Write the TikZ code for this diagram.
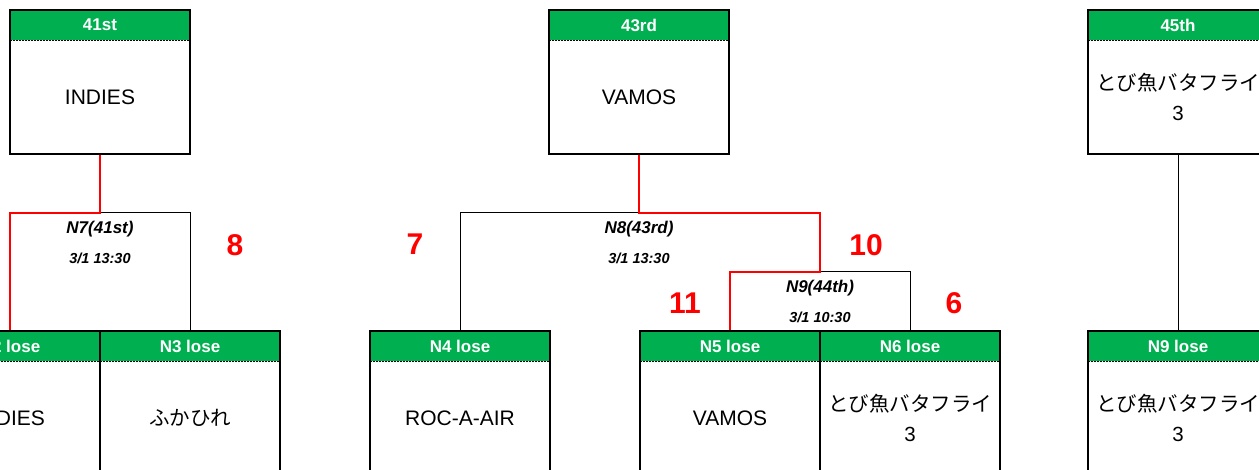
\documentclass[tikz,border=0pt]{standalone}
\usepackage{fontspec}
\setmainfont{Liberation Sans}
\newfontfamily\jp{Noto Sans CJK JP}
\definecolor{exgreen}{RGB}{0,176,80}
\begin{document}
\begin{tikzpicture}[x=1pt,y=-1pt,
  box/.style={draw=black, line width=2pt, minimum width=180pt, minimum height=144pt, inner sep=0pt},
  hdr/.style={fill=exgreen, minimum width=180pt, minimum height=30pt, inner sep=0pt, text=white, font=\fontsize{17}{20}\selectfont\bfseries},
  body/.style={font=\fontsize{21}{30}\selectfont, align=center, inner sep=0pt},
  jbody/.style={font=\fontsize{20.5}{30}\selectfont, align=center, inner sep=0pt},
  sep/.style={dashed, line width=0.8pt, dash pattern=on 2pt off 1pt},
  win/.style={draw=red, line width=2.6pt},
  lose/.style={draw=black, line width=1pt},
  mlabel/.style={font=\fontsize{17}{20}\selectfont\bfseries\itshape, inner sep=0pt},
  mdate/.style={font=\fontsize{14.5}{18}\selectfont\bfseries\itshape, inner sep=0pt},
  score/.style={text=red, font=\fontsize{30}{34}\selectfont\bfseries, inner sep=0pt}]
\useasboundingbox (0,0) rectangle (1259,470);
\clip (0,0) rectangle (1259,470);

% junction coordinates
\coordinate (j7) at (100,213);
\coordinate (j8) at (639,213);
\coordinate (j9) at (820,272);

% box positions (invisible anchors first, for connectors)
\path (100,82) node[minimum width=180pt, minimum height=144pt, inner sep=0pt] (t41) {};
\path (639,82) node[minimum width=180pt, minimum height=144pt, inner sep=0pt] (t43) {};
\path (1178,82) node[minimum width=180pt, minimum height=144pt, inner sep=0pt] (t45) {};
\path (10,403) node[minimum width=180pt, minimum height=144pt, inner sep=0pt] (b2) {};
\path (190,403) node[minimum width=180pt, minimum height=144pt, inner sep=0pt] (b3) {};
\path (460,403) node[minimum width=180pt, minimum height=144pt, inner sep=0pt] (b4) {};
\path (730,403) node[minimum width=180pt, minimum height=144pt, inner sep=0pt] (b5) {};
\path (910,403) node[minimum width=180pt, minimum height=144pt, inner sep=0pt] (b6) {};
\path (1178,403) node[minimum width=180pt, minimum height=144pt, inner sep=0pt] (b9) {};

% connectors
\draw[lose] (j7) -| (b3.north);
\draw[lose] (j8) -| (b4.north);
\draw[lose] (j9) -| (b6.north);
\draw[lose] (t45.south) -- (b9.north);
\draw[win] (t41.south) -- (j7) -| (b2.north);
\draw[win] (t43.south) -- (j8) -| (j9) -| (b5.north);

% headers
\foreach \b/\t in {t41/41st, t43/43rd, t45/45th, b2/N2 lose, b3/N3 lose, b4/N4 lose, b5/N5 lose, b6/N6 lose, b9/N9 lose}{
  \node[hdr, anchor=north] (h\b) at (\b.north) {\t};
  \draw[sep] (h\b.south west) -- (h\b.south east);
}

% borders
\foreach \b in {t41,t43,t45,b2,b3,b4,b5,b6,b9}{
  \node[box] (f\b) at (\b.center) {};
}

% body texts
\node[body] (x41) at ([yshift=-15pt]t41.center) {INDIES};
\node[body] (x43) at ([yshift=-15pt]t43.center) {VAMOS};
\node[jbody] (x45) at ([yshift=-15pt]t45.center) {{\jp とび魚バタフライ}\\3};
\node[body] (x2) at ([yshift=-15pt]b2.center) {INDIES};
\node[jbody] (x3) at ([yshift=-15pt]b3.center) {\jp ふかひれ};
\node[body] (x4) at ([yshift=-15pt]b4.center) {ROC-A-AIR};
\node[body] (x5) at ([yshift=-15pt]b5.center) {VAMOS};
\node[jbody] (x6) at ([yshift=-15pt]b6.center) {{\jp とび魚バタフライ}\\3};
\node[jbody] (x9) at ([yshift=-15pt]b9.center) {{\jp とび魚バタフライ}\\3};

% match labels
\node[mlabel] (m7) at (100,229) {N7(41st)};
\node[mdate] (d7) at (100,258) {3/1 13:30};
\node[mlabel] (m8) at (639,229) {N8(43rd)};
\node[mdate] (d8) at (639,258) {3/1 13:30};
\node[mlabel] (m9) at (820,288) {N9(44th)};
\node[mdate] (d9) at (820,317) {3/1 10:30};

% scores
\node[score] (s8) at (235,245) {8};
\node[score] (s7) at (415,244) {7};
\node[score] (s10) at (866,245) {10};
\node[score] (s11) at (685,303) {11};
\node[score] (s6) at (954,303) {6};
\end{tikzpicture}
\end{document}
